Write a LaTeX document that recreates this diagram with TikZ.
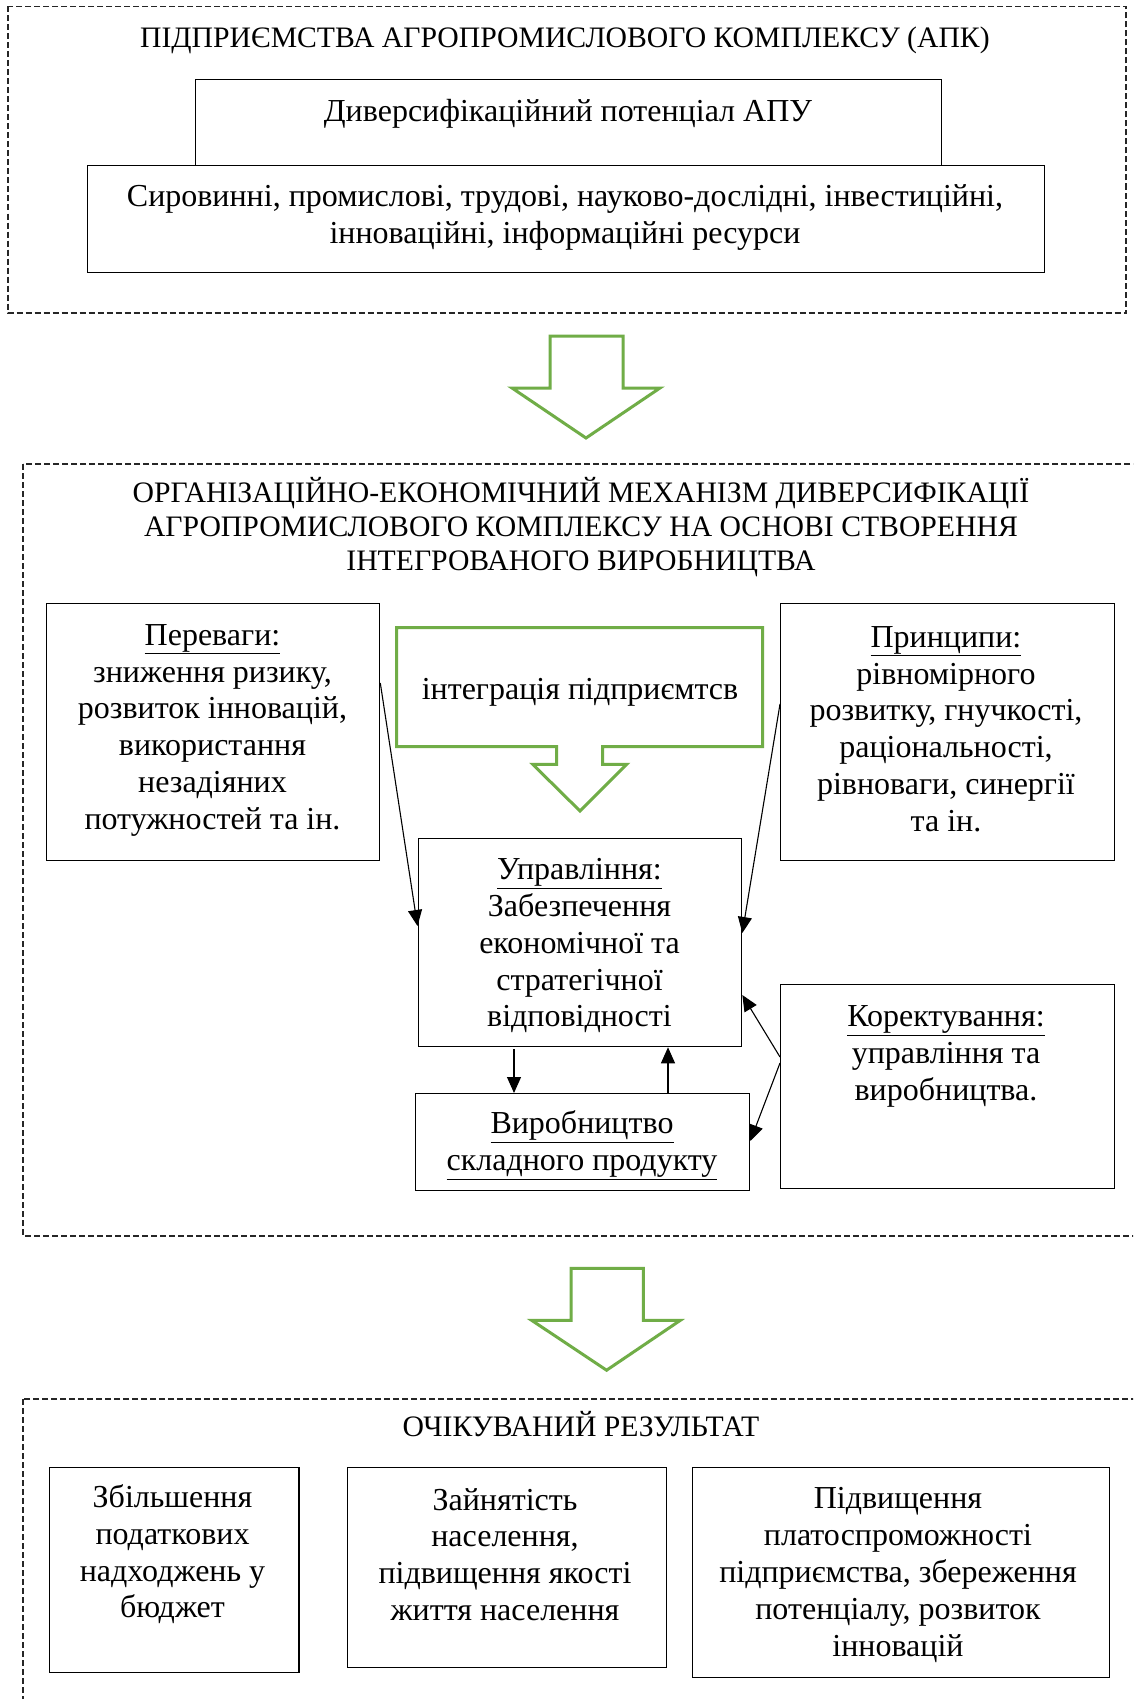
\documentclass[tikz,border=0pt]{standalone}
\usepackage{fontspec}
\setmainfont{Liberation Serif}
\usetikzlibrary{arrows.meta,calc}
\definecolor{agreen}{RGB}{112,173,71}
\tikzset{
 box/.style={draw=black, line width=1.3pt, inner sep=0pt, anchor=north west},
 txt/.style={align=center, inner sep=0pt, font=\fontsize{32}{36.8}\selectfont},
 ttl/.style={align=center, inner sep=0pt, font=\fontsize{29.7}{34.2}\selectfont},
 frame/.style={draw=black!85, line width=1.2pt, dash pattern=on 6pt off 3pt},
 garrow/.style={draw=agreen, line width=3pt, line join=miter},
 arr/.style={line width=1.1pt, -{Triangle[length=16pt,width=14pt]}},
}
\begin{document}
\begin{tikzpicture}[x=1pt,y=-1pt]
\useasboundingbox (0,0) rectangle (1133,1699);
\clip (0,0) rectangle (1133,1699);
\fill[white] (0,0) rectangle (1133,1699);

% ---------- top block ----------
\draw[frame] (8,6.5) rectangle (1126,313);
\node[ttl] (t1) at (565,40) {ПІДПРИЄМСТВА АГРОПРОМИСЛОВОГО КОМПЛЕКСУ (АПК)};
\node[box, minimum width=746pt, minimum height=86pt] (b1) at (195,79) {};
\node[txt] (b1t) at (568,113.8) {Диверсифікаційний потенціал АПУ};
\node[box, minimum width=957pt, minimum height=107pt] (b2) at (87,165) {};
\node[txt] (b2t) at (565,217.5) {Сировинні, промислові, трудові, науково-дослідні, інвестиційні,\\ інноваційні, інформаційні ресурси};

% green arrow 1
\draw[garrow] (550,336) -- (623,336) -- (623,388) -- (660,388) -- (586,438) -- (512,388) -- (550,388) -- cycle;

% ---------- middle block ----------
\draw[frame] (23,464) rectangle (1150,1236);
\node[ttl] (t2) at (581,527.2) {ОРГАНІЗАЦІЙНО-ЕКОНОМІЧНИЙ МЕХАНІЗМ ДИВЕРСИФІКАЦІЇ\\ АГРОПРОМИСЛОВОГО КОМПЛЕКСУ НА ОСНОВІ СТВОРЕННЯ\\ ІНТЕГРОВАНОГО ВИРОБНИЦТВА};

\node[box, minimum width=333.5pt, minimum height=257pt] (pereb) at (45.5,603) {};
\node[txt] (perebt) at (212.5,730.3) {\underline{Переваги:}\\ зниження ризику,\\ розвиток інновацій,\\ використання\\ незадіяних\\ потужностей та ін.};

\node[box, minimum width=333.5pt, minimum height=257pt] (princ) at (780,603) {};
\node[txt] (princt) at (946,729) {\underline{Принципи:}\\ рівномірного\\ розвитку, гнучкості,\\ раціональності,\\ рівноваги, синергії\\ та ін.};

\draw[garrow] (396.7,627.7) -- (762.7,627.7) -- (762.7,746.7) -- (602.7,746.7) -- (602.7,764.3) -- (626.7,764.3) -- (580,811) -- (532.7,764.3) -- (556.7,764.3) -- (556.7,746.7) -- (396.7,746.7) -- cycle;
\node[txt] (integ) at (580,692.3) {інтеграція підприємтсв};

\node[box, minimum width=323.5pt, minimum height=208pt] (upr) at (417.5,838) {};
\node[txt] (uprt) at (579.5,945.7) {\underline{Управління:}\\ Забезпечення\\ економічної та\\ стратегічної\\ відповідності};

\node[box, minimum width=334pt, minimum height=97pt] (vyr) at (415,1093) {};
\node[txt] (vyrt) at (582,1145) {\underline{Виробництво}\\ \underline{складного продукту}};

\node[box, minimum width=333.5pt, minimum height=204pt] (korr) at (780,984) {};
\node[txt] (korrt) at (946,1056.2) {\underline{Коректування:}\\ управління та\\ виробництва.};

% connectors
\coordinate (p1) at ($(pereb.north east)+(0,80)$);
\coordinate (u1) at ($(upr.north west)+(0,88)$);
\draw[arr] (p1) -- (u1);
\coordinate (p2) at ($(princ.north west)+(0,101)$);
\coordinate (u2) at ($(upr.north east)+(0,95)$);
\draw[arr] (p2) -- (u2);
\coordinate (d1) at ($(upr.south west)+(96.5,2)$);
\coordinate (d2) at ($(vyr.north west)+(99,0)$);
\draw[arr] (d1) -- (d2);
\coordinate (e1) at ($(vyr.north west)+(253,0)$);
\coordinate (e2) at ($(upr.south west)+(250.5,0)$);
\draw[arr] (e1) -- (e2);
\coordinate (k1) at ($(korr.north west)+(0,73)$);
\coordinate (u3) at ($(upr.north east)+(0,157)$);
\draw[arr] (k1) -- (u3);
\coordinate (k2) at ($(korr.north west)+(0,79)$);
\coordinate (v3) at ($(vyr.north east)+(0,48)$);
\draw[arr] (k2) -- (v3);

% green arrow 2
\draw[garrow] (571,1268.4) -- (643.4,1268.4) -- (643.4,1320.4) -- (680.2,1320.4) -- (606.6,1370.2) -- (531.8,1320.4) -- (571,1320.4) -- cycle;

% ---------- bottom block ----------
\draw[frame] (23,1399) rectangle (1150,1720);
\node[ttl] (t3) at (581,1424.4) {ОЧІКУВАНИЙ РЕЗУЛЬТАТ};

\node[box, minimum width=249.6pt, minimum height=205pt] (ra) at (48.7,1467) {};
\node[txt] (rat) at (172.5,1554.4) {Збільшення\\ податкових\\ надходжень у\\ бюджет};
\node[box, minimum width=319pt, minimum height=200pt] (rb) at (347,1467) {};
\node[txt] (rbt) at (505,1554.4) {Зайнятість\\ населення,\\ підвищення якості\\ життя населення};
\node[box, minimum width=417pt, minimum height=210pt] (rc) at (692,1467) {};
\node[txt] (rct) at (898,1575) {Підвищення\\ платоспроможності\\ підприємства, збереження\\ потенціалу, розвиток\\ інновацій};
\end{tikzpicture}
\end{document}
